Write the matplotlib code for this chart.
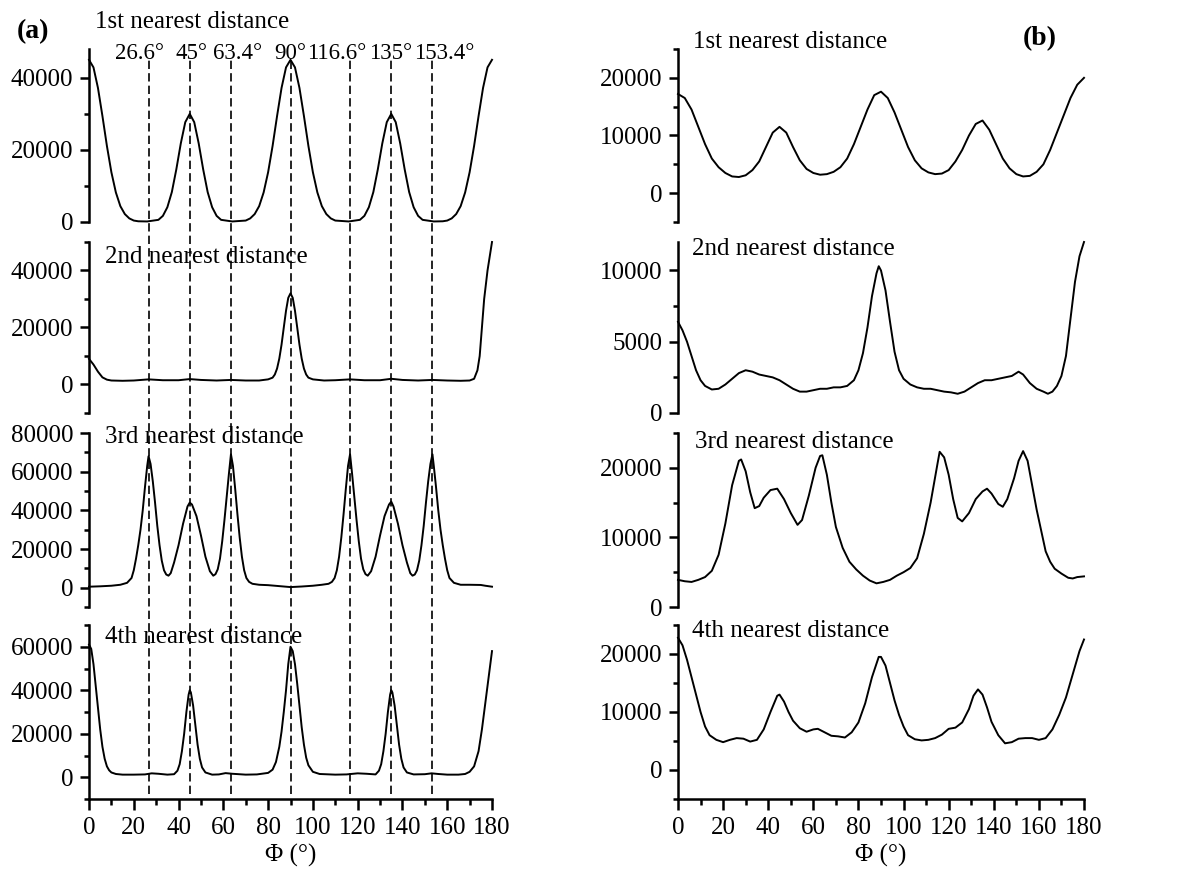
import matplotlib
matplotlib.use('Agg')
import matplotlib.pyplot as plt
from matplotlib.ticker import MultipleLocator
from matplotlib.transforms import blended_transform_factory

plt.rcParams['font.family'] = ['Liberation Serif', 'DejaVu Serif']

# ---- data (a): sharp peaks ----
a1_phi = [0, 2, 4, 6, 8, 10, 12, 14, 16, 18, 20, 22, 26,
          31, 33, 35, 37, 39, 41, 43, 45, 47, 49, 51, 53, 55, 57, 59, 64,
          70, 72, 74, 76, 78, 80, 82, 84, 86, 88, 90, 92, 94, 96, 98, 100, 102, 104, 106, 108, 110, 116,
          121, 123, 125, 127, 129, 131, 133, 135, 137, 139, 141, 143, 145, 147, 149, 154,
          158, 160, 162, 164, 166, 168, 170, 172, 174, 176, 178, 180]
a1_val = [45000, 42900, 37200, 29400, 21100, 13800, 8200, 4400, 2200, 1000, 400, 200, 150,
          600, 1700, 4100, 8300, 14600, 21800, 27700, 30000, 27700, 21800, 14600, 8300, 4100, 1700, 600, 150,
          400, 1000, 2200, 4400, 8200, 13800, 21100, 29400, 37200, 42900, 45000, 42900, 37200, 29400, 21100,
          13800, 8200, 4400, 2200, 1000, 400, 150,
          600, 1700, 4100, 8300, 14600, 21800, 27700, 30000, 27700, 21800, 14600, 8300, 4100, 1700, 600, 150,
          200, 400, 1000, 2200, 4400, 8200, 13800, 21100, 29400, 37200, 42900, 45000]

a2_phi = [0, 2, 4, 6, 8, 10, 15, 20, 26.6, 33, 40, 45, 50, 57, 63.4, 70, 76, 80,
          82, 83, 84, 85, 86, 87, 88, 89, 90, 91, 92, 93, 94, 95, 96, 97, 98,
          100, 105, 110, 116.6, 123, 130, 135, 140, 147, 153.4, 160, 166, 170, 172,
          173.5, 174.5, 175.5, 176.5, 178, 180]
a2_val = [9000, 7000, 4500, 2500, 1700, 1400, 1300, 1400, 1800, 1500, 1500, 1900, 1600, 1400, 1600, 1400, 1400, 1800,
          2400, 3500, 5600, 9100, 14000, 20000, 25900, 30400, 32000, 30400, 25900, 20000, 14000, 9100, 5600, 3500, 2400,
          1800, 1400, 1500, 1800, 1500, 1500, 2000, 1600, 1400, 1600, 1400, 1300, 1400, 2000,
          5000, 10000, 20000, 30000, 40000, 50000]

a3_phi = [0, 5, 10, 14, 17, 19, 20, 21, 22, 23, 24, 25, 26, 26.6, 27.5, 28.5, 29.5, 30.5, 31.5, 32.5,
          33.5, 34.5, 35.5, 36.5, 38, 40, 42, 44, 45, 46, 48, 50, 52, 54, 55.5, 56.5, 57.5, 58.5, 59.5,
          60.5, 61.5, 62.5, 63.4, 64.3, 65.3, 66.3, 67.3, 68.3, 69.3, 70.3, 71.5, 73, 76, 80, 85, 90,
          95, 100, 104, 107, 108.5, 109.7, 110.7, 111.7, 112.7, 113.7, 114.7, 115.7, 116.6, 117.5, 118.5,
          119.5, 120.5, 121.5, 122.5, 123.5, 124.5, 126, 128, 130, 132, 134, 135, 136, 138, 140, 142,
          143.5, 144.5, 145.5, 146.5, 147.5, 148.5, 149.5, 150.5, 151.5, 152.5, 153.4, 154, 155, 156,
          157, 158, 159, 160, 161, 163, 166, 170, 175, 177, 180]
a3_val = [500, 700, 1000, 1500, 2500, 5000, 9000, 15000, 22000, 30000, 40000, 52000, 63000, 68000, 64000,
          55000, 44000, 32000, 22000, 14000, 9000, 6800, 6200, 7500, 13000, 22000, 33000, 42000, 44000,
          43000, 37000, 27000, 16000, 8500, 6200, 7000, 9500, 15000, 24000, 35000, 47000, 59000, 69000,
          63000, 51000, 38000, 26000, 16000, 9000, 5000, 3000, 2000, 1500, 1300, 800, 300,
          600, 1000, 1500, 2000, 3000, 5000, 9000, 16000, 26000, 38000, 51000, 63000, 69000, 59000, 47000,
          35000, 24000, 15000, 9500, 7000, 6200, 8500, 16000, 27000, 37000, 43000, 44500, 42000, 33000,
          22000, 13000, 7500, 6200, 6800, 9000, 14000, 22000, 32000, 44000, 55000, 64000, 69000, 63000,
          52000, 40000, 30000, 22000, 15000, 9000, 5000, 2500, 1500, 1500, 1400, 1000, 500]

a4_phi = [0, 1, 2, 3, 4, 5, 6, 7, 8, 9, 10, 12, 15, 20, 25, 28, 31, 35, 38, 39.5, 40.5, 41.5, 42.5,
          43.5, 44.5, 45, 45.5, 46.5, 47.5, 48.5, 49.5, 50.5, 52, 55, 58, 61, 64, 70, 75, 80, 82, 83.5,
          85, 86, 87, 88, 89, 90, 91, 92, 93, 94, 95, 96, 97, 98, 100, 103, 110, 115, 120, 124, 128,
          129.5, 130.5, 131.5, 132.5, 133.5, 134.5, 135, 135.5, 136.5, 137.5, 138.5, 139.5, 140.5,
          142, 145, 150, 153, 156, 160, 165, 168, 170, 172, 174, 175.5, 177, 178.5, 180]
a4_val = [61000, 59000, 52000, 42000, 32000, 22000, 14000, 8500, 5000, 3200, 2200, 1500, 1200, 1200,
          1300, 1800, 1600, 1200, 1400, 3000, 6000, 12000, 20000, 30000, 38000, 40000, 39000, 33000,
          24000, 15000, 8500, 4500, 2200, 1200, 1300, 1900, 1600, 1200, 1300, 2000, 3500, 7000,
          14000, 21000, 30000, 40000, 52000, 60000, 58000, 52000, 43000, 33000, 23000, 15000, 9000,
          5500, 2500, 1500, 1200, 1300, 1800, 1600, 1300,
          3000, 6000, 12000, 20000, 30000, 38000, 40000, 39000, 33000, 24000, 15000, 8500, 4500,
          2200, 1300, 1400, 1800, 1500, 1200, 1200, 1500, 2500, 5000, 12000, 22000, 34000, 46000, 58000]

# ---- data (b): broad peaks ----
b1_phi = list(range(0, 181, 3))
b1_val = [17200, 16500, 14500, 11500, 8500, 6000, 4500, 3500, 2900, 2800, 3100, 4000, 5500, 8000,
          10500, 11500, 10500, 8000, 5700, 4200, 3500, 3200, 3300, 3700, 4500, 6000, 8500, 11500,
          14500, 17000, 17600, 16500, 14000, 11000, 8000, 5700, 4300, 3600, 3300, 3400, 4000, 5500,
          7500, 10000, 12000, 12600, 11000, 8500, 6000, 4300, 3300, 2900, 3000, 3700, 5000, 7500,
          10500, 13500, 16500, 18800, 20000]

b2_phi = [0, 2, 4, 6, 8, 10, 12, 15, 18, 21, 24, 27, 30, 33, 36, 39, 42, 45, 48, 51, 54, 57, 60, 63,
          66, 69, 72, 75, 78, 80, 82, 84, 86, 88, 89, 90, 92, 94, 96, 98, 100, 103, 106, 109, 112,
          115, 118, 121, 124, 127, 130, 133, 136, 139, 142, 145, 148, 151, 153, 156, 159, 162, 164,
          166, 168, 170, 172, 174, 176, 178, 180]
b2_val = [6400, 5800, 5000, 4000, 3000, 2300, 1900, 1650, 1700, 2000, 2400, 2800, 3000, 2900, 2700,
          2600, 2500, 2300, 2000, 1700, 1500, 1500, 1600, 1700, 1700, 1800, 1800, 1900, 2300, 3000,
          4200, 6000, 8200, 9800, 10300, 10000, 8600, 6400, 4300, 3000, 2400, 2000, 1800, 1700, 1700,
          1600, 1500, 1450, 1350, 1500, 1800, 2100, 2300, 2300, 2400, 2500, 2600, 2900, 2700, 2100,
          1700, 1500, 1350, 1500, 1900, 2600, 4000, 6600, 9200, 11000, 12000]

b3_phi = [0, 3, 6, 9, 12, 15, 18, 21, 24, 27, 28, 30, 32, 34, 36, 38, 41, 44, 47, 50, 53, 55, 58, 61,
          63, 64, 66, 68, 70, 73, 76, 79, 82, 85, 88, 91, 94, 97, 100, 103, 106, 109, 112, 115, 116,
          118, 120, 122, 124, 126, 129, 132, 135, 137, 139, 142, 144, 146, 149, 151, 153, 155, 157,
          159, 161, 163, 165, 167, 170, 173, 175, 177, 180]
b3_val = [3900, 3700, 3600, 3900, 4300, 5200, 7500, 12000, 17500, 21000, 21200, 19500, 16500, 14200,
          14500, 15700, 16800, 17000, 15500, 13500, 11800, 12500, 16000, 20000, 21700, 21800, 19000,
          15000, 11500, 8500, 6500, 5400, 4500, 3800, 3400, 3600, 3900, 4500, 5000, 5600, 7000, 10500,
          15000, 20500, 22300, 21500, 19000, 15500, 12800, 12300, 13500, 15500, 16600, 17000, 16300,
          14800, 14400, 15500, 18500, 21000, 22400, 21000, 17500, 14000, 11000, 8000, 6500, 5500,
          4800, 4200, 4100, 4300, 4400]

b4_phi = [0, 2, 4, 6, 8, 10, 12, 14, 17, 20, 23, 26, 29, 32, 35, 38, 41, 44, 45, 47, 49, 51, 54, 57,
          60, 62, 65, 68, 71, 74, 77, 80, 83, 86, 89, 90, 92, 94, 96, 98, 100, 102, 105, 108, 111,
          114, 117, 120, 123, 126, 129, 131, 133, 135, 137, 139, 142, 145, 148, 151, 154, 157, 160,
          163, 166, 169, 172, 175, 178, 180]
b4_val = [22800, 21500, 19000, 16000, 13000, 10000, 7500, 6000, 5200, 4800, 5200, 5500, 5400, 4900,
          5200, 7000, 10000, 12800, 13000, 11800, 10000, 8500, 7200, 6600, 7000, 7100, 6500, 5900,
          5800, 5600, 6500, 8200, 11500, 16000, 19500, 19500, 18000, 15000, 12000, 9500, 7500, 6000,
          5300, 5100, 5200, 5500, 6100, 7100, 7300, 8200, 10500, 12800, 13900, 13000, 10800, 8300,
          6000, 4600, 4800, 5400, 5500, 5500, 5200, 5500, 7000, 9500, 12500, 16500, 20500, 22500]

titles = ['1st nearest distance', '2nd nearest distance', '3rd nearest distance', '4th nearest distance']
angles = [26.6, 45, 63.4, 90, 116.6, 135, 153.4]

# ---- layout in pixels ----
W, H = 1182, 869
fig = plt.figure(figsize=(W / 100, H / 100), dpi=100)


def box(x0, x1, top, bottom):
    return [x0 / W, 1 - bottom / H, (x1 - x0) / W, (bottom - top) / H]


def fx(x):
    return x / W


def fy(y):
    return 1 - y / H


tops = [49, 242, 433, 625]
bottoms = [222, 413, 607, 799]
cols = [(89, 492), (678, 1084)]

series = [
    [(a1_phi, a1_val), (a2_phi, a2_val), (a3_phi, a3_val), (a4_phi, a4_val)],
    [(b1_phi, b1_val), (b2_phi, b2_val), (b3_phi, b3_val), (b4_phi, b4_val)],
]
ylims = [
    [(0, 48000), (-10000, 50000), (-10000, 80000), (-10000, 70000)],
    [(-5000, 25000), (0, 12000), (0, 25000), (-5000, 25000)],
]
majors = [[20000, 20000, 20000, 20000], [10000, 5000, 10000, 10000]]

for c, (x0, x1) in enumerate(cols):
    for r in range(4):
        ax = fig.add_axes(box(x0, x1, tops[r], bottoms[r]))
        phi, val = series[c][r]
        ax.plot(phi, val, color='black', lw=1.4, clip_on=False)
        ax.set_xlim(0, 180)
        ax.set_ylim(*ylims[c][r])
        ax.yaxis.set_major_locator(MultipleLocator(majors[c][r]))
        ax.yaxis.set_minor_locator(MultipleLocator(majors[c][r] / 2))
        ax.patch.set_alpha(0)
        for s in ['top', 'right']:
            ax.spines[s].set_visible(False)
        ax.spines['left'].set_linewidth(1.8)
        ax.tick_params(which='both', direction='out', width=1.8, labelsize=18)
        ax.tick_params(axis='y', which='major', length=6.5, pad=5)
        ax.tick_params(axis='y', which='minor', length=3.8)
        if r == 3:
            ax.spines['bottom'].set_linewidth(1.8)
            ax.xaxis.set_major_locator(MultipleLocator(20))
            ax.xaxis.set_minor_locator(MultipleLocator(10))
            ax.tick_params(axis='x', which='major', length=8, pad=5)
            ax.tick_params(axis='x', which='minor', length=4.3)
            fig.text(fx((x0 + x1) / 2), fy(862), 'Φ (°)', fontsize=18, ha='center', va='baseline')
        else:
            ax.spines['bottom'].set_visible(False)
            ax.tick_params(axis='x', which='both', bottom=False, labelbottom=False)

# title positions (px, baseline)
title_pos = [
    [(95, 28), (105, 263), (105, 443), (105, 643)],
    [(693, 48), (692, 255), (695, 448), (692, 637)],
]
for c in range(2):
    for r in range(4):
        x, y = title_pos[c][r]
        fig.text(fx(x), fy(y), titles[r], fontsize=18, ha='left', va='baseline')

fig.text(fx(17), fy(38), '(a)', fontsize=20, fontweight='bold', ha='left', va='baseline')
fig.text(fx(1023), fy(45), '(b)', fontsize=20, fontweight='bold', ha='left', va='baseline')

# dashed guide lines across all (a) panels
ov = fig.add_axes(box(89, 492, 58, 794), zorder=5)
ov.set_xlim(0, 180)
ov.set_ylim(0, 1)
ov.axis('off')
ov.vlines(angles, 0, 1, colors='black', linestyles=(0, (5, 2.5)), lw=1.2)

# angle labels, centred in pixel columns above the guide lines
label_px = [139, 192, 238, 290, 337, 391, 444]
for a, px in zip(angles, label_px):
    fig.text(fx(px), fy(59), f'{a:g}°', fontsize=16.5, ha='center', va='baseline')

fig.savefig('out.png', dpi=100)
